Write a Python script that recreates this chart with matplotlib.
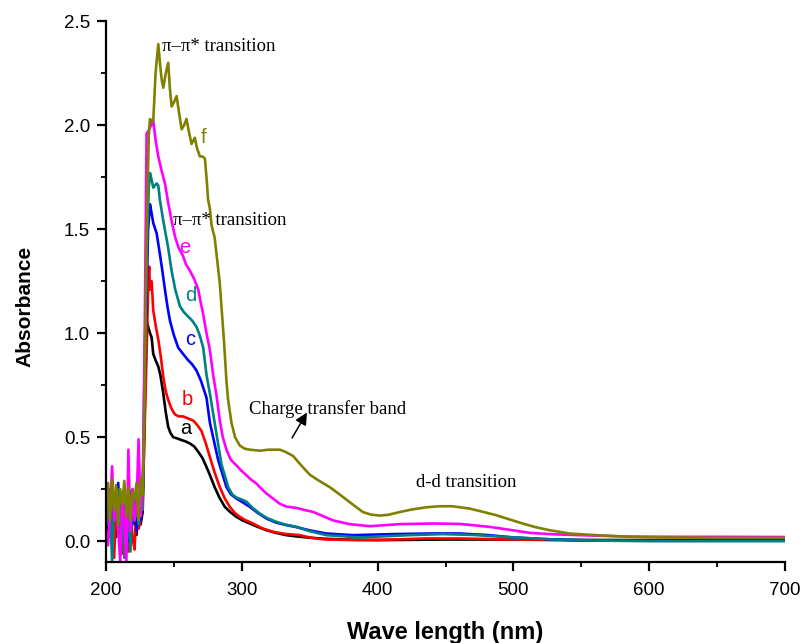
import matplotlib
matplotlib.use("Agg")
import matplotlib.pyplot as plt
from matplotlib.ticker import MultipleLocator, FormatStrFormatter

# noisy start region shared by all spectra
noise_wl = [200, 201.5, 203, 204.5, 206, 207.5, 209, 210.5, 212, 213.5,
            215, 216.5, 218, 219.5, 221, 222.5, 224, 225.5, 227]

# a (black)
a_wl = noise_wl + [229.9, 231.1, 232.4, 233.6, 234.8, 236.5, 238.5, 240, 242.2, 244,
                   245.8, 247.5, 249.5, 252, 255.7, 258.5, 261.8, 265, 267.9, 271,
                   274, 277, 280, 283.5, 287.5, 291.5, 296, 300.5, 305.9, 312,
                   318.1, 325, 332.8, 340, 350, 360, 375, 400, 450, 500,
                   550, 600, 650, 700]
a_abs = [0.15, 0.05, 0.22, 0.08, 0.18, 0.02, 0.20, 0.10, 0.16, 0.04,
         0.21, 0.06, 0.17, 0.09, 0.12, 0.03, 0.19, 0.08, 0.14] + \
        [1.06, 1.03, 1.00, 0.98, 0.90, 0.87, 0.84, 0.80, 0.71, 0.62,
         0.55, 0.52, 0.50, 0.495, 0.486, 0.48, 0.47, 0.455, 0.43, 0.40,
         0.357, 0.31, 0.26, 0.21, 0.165, 0.14, 0.117, 0.10, 0.085, 0.068,
         0.053, 0.04, 0.029, 0.023, 0.017, 0.012, 0.008, 0.005, 0.008, 0.008,
         0.006, 0.005, 0.005, 0.005]

# b (red)
b_wl = noise_wl + [229.5, 231.2, 231.8, 232.4, 233.6, 234.8, 236.5, 238.5, 240.5, 242.2,
                   244, 245.8, 248, 250.7, 253.5, 256.8, 260.5, 264.2, 267, 270.3,
                   273.5, 276.5, 280, 283.8, 287.5, 291.2, 295, 298.5, 303, 308.3,
                   315, 323, 332, 342.6, 352, 362.2, 386.8, 410, 435.8, 460,
                   500, 550, 600, 650, 700]
b_abs = [0.10, 0.20, 0.02, 0.25, -0.08, 0.18, 0.05, 0.22, -0.06, 0.15,
         0.08, -0.05, 0.20, 0.02, -0.04, 0.18, 0.06, 0.10, 0.20] + \
        [0.80, 1.26, 1.32, 1.21, 1.25, 1.11, 1.04, 0.97, 0.88, 0.79,
         0.72, 0.68, 0.64, 0.61, 0.60, 0.60, 0.59, 0.58, 0.56, 0.53,
         0.47, 0.405, 0.33, 0.26, 0.205, 0.165, 0.135, 0.117, 0.10, 0.085,
         0.062, 0.045, 0.035, 0.029, 0.015, 0.008, 0.005, 0.008, 0.013, 0.013,
         0.008, 0.003, 0.005, 0.006, 0.008]

# c (blue)
c_wl = noise_wl + [229, 231, 232.4, 233.5, 234.8, 237.3, 239.7, 241.5, 243.4, 245.2,
                   247.1, 250, 253.2, 256.8, 260.5, 263.5, 266.7, 270, 274, 276.5,
                   282.6, 288.7, 292, 296, 300, 305.9, 312, 318.1, 325, 332.8,
                   340, 350, 362.2, 381.8, 411.3, 440, 460, 480, 500, 530,
                   560, 600, 650, 700]
c_abs = [0.18, 0.10, 0.25, 0.05, 0.20, 0.12, 0.28, 0.02, 0.22, 0.10,
         0.18, 0.00, 0.24, 0.08, 0.20, 0.05, 0.15, 0.10, 0.22] + \
        [0.90, 1.50, 1.62, 1.58, 1.53, 1.48, 1.38, 1.30, 1.21, 1.13,
         1.06, 0.99, 0.93, 0.90, 0.87, 0.85, 0.82, 0.77, 0.69, 0.57,
         0.39, 0.26, 0.225, 0.205, 0.19, 0.165, 0.135, 0.109, 0.09, 0.077,
         0.068, 0.052, 0.037, 0.029, 0.034, 0.037, 0.037, 0.03, 0.018, 0.008,
         0.003, 0.003, 0.004, 0.005]

# d (teal)
d_wl = noise_wl + [228.5, 230.5, 231.5, 232.4, 233.5, 234.8, 236, 237.3, 238.5, 239.7,
                   242.2, 245.8, 248.3, 251, 254.4, 257.5, 260.5, 263.5, 266.7, 269,
                   271.6, 274, 276.5, 280, 285, 290, 293, 296, 300, 303.4,
                   308, 313.2, 319, 325.5, 332, 340.2, 350, 362.2, 386.8, 410,
                   423.5, 448, 470, 500, 530, 560, 600, 650, 700]
d_abs = [0.20, 0.08, 0.15, -0.10, 0.22, 0.10, 0.25, 0.05, 0.18, -0.08,
         0.20, 0.12, -0.05, 0.25, 0.10, 0.20, 0.08, 0.22, 0.15] + \
        [0.90, 1.50, 1.70, 1.77, 1.74, 1.70, 1.71, 1.72, 1.71, 1.64,
         1.54, 1.41, 1.30, 1.21, 1.13, 1.10, 1.08, 1.06, 1.03, 0.99,
         0.93, 0.80, 0.71, 0.57, 0.37, 0.26, 0.225, 0.21, 0.20, 0.19,
         0.16, 0.133, 0.11, 0.093, 0.08, 0.069, 0.048, 0.029, 0.018, 0.025,
         0.029, 0.034, 0.03, 0.018, 0.008, 0.003, 0.0, 0.0, 0.0]

# e (magenta)
e_wl = noise_wl + [228.5, 229.9, 231, 232.5, 234.8, 236.5, 238.5, 241, 243.4, 246,
                   248.3, 251, 253.5, 256.8, 259, 261.8, 265, 267.9, 270, 271.6,
                   274, 276.5, 278.9, 281.4, 283.8, 286, 288.7, 292, 296, 299.5,
                   303.4, 307, 310.8, 313.2, 318, 323, 328, 333, 340.2, 346,
                   352.4, 360, 367.1, 379.4, 394.1, 416.2, 440.7, 460.3, 482.4, 497,
                   511.8, 530, 548.5, 585, 620, 653.7, 700]
e_abs = [0.05, -0.02, 0.15, 0.36, 0.10, 0.22, 0.05, -0.10, 0.20, 0.12,
         -0.10, 0.44, 0.05, 0.25, 0.10, 0.18, 0.49, 0.12, 0.25] + \
        [1.00, 1.96, 1.97, 1.99, 2.02, 1.93, 1.85, 1.78, 1.72, 1.62,
         1.54, 1.46, 1.41, 1.37, 1.33, 1.30, 1.26, 1.21, 1.14, 1.09,
         1.00, 0.92, 0.80, 0.70, 0.58, 0.50, 0.44, 0.39, 0.365, 0.34,
         0.317, 0.295, 0.277, 0.26, 0.23, 0.205, 0.18, 0.166, 0.16, 0.15,
         0.141, 0.12, 0.10, 0.082, 0.072, 0.082, 0.085, 0.083, 0.069, 0.055,
         0.04, 0.033, 0.029, 0.022, 0.021, 0.021, 0.02]

# f (olive)
f_wl = noise_wl + [228.5, 230, 231.5, 232.4, 233.5, 234.8, 236.5, 238.5, 240, 241,
                   242.2, 244, 245.8, 247, 248.3, 250, 252, 254, 255.7, 257.5,
                   259.3, 261, 263, 265.4, 267, 269.1, 271, 272.8, 274, 275.2,
                   276.5, 277.7, 280, 283.8, 287, 288.7, 289.9, 292.4, 295, 298.5,
                   302, 305.9, 313.2, 320, 327.9, 332, 337.7, 343, 350, 357,
                   364.7, 371, 377, 383, 389.2, 395, 401.5, 408, 416.2, 425,
                   435.8, 445.6, 455, 467.6, 477, 487.3, 497, 506.8, 516, 526.5,
                   541.2, 560.8, 585.3, 609.8, 650, 700]
f_abs = [0.12, 0.28, 0.10, 0.30, 0.15, 0.27, 0.08, 0.25, 0.18, 0.29,
         0.12, 0.26, 0.10, 0.24, 0.20, 0.28, 0.10, 0.30, 0.22] + \
        [0.70, 1.50, 1.95, 2.03, 2.02, 2.02, 2.25, 2.39, 2.28, 2.22,
         2.18, 2.25, 2.30, 2.18, 2.09, 2.11, 2.14, 2.05, 1.98, 2.00,
         2.03, 1.97, 1.91, 1.94, 1.89, 1.85, 1.85, 1.84, 1.75, 1.64,
         1.60, 1.52, 1.46, 1.24, 0.95, 0.77, 0.68, 0.57, 0.50, 0.46,
         0.445, 0.44, 0.435, 0.44, 0.44, 0.43, 0.41, 0.37, 0.32, 0.29,
         0.26, 0.23, 0.20, 0.17, 0.14, 0.128, 0.123, 0.127, 0.14, 0.152,
         0.163, 0.168, 0.168, 0.157, 0.142, 0.125, 0.105, 0.085, 0.068, 0.053,
         0.037, 0.029, 0.021, 0.018, 0.016, 0.016]

series = [("a", a_wl, a_abs, "black"),
          ("b", b_wl, b_abs, "#ff0000"),
          ("c", c_wl, c_abs, "#0000ff"),
          ("d", d_wl, d_abs, "#008080"),
          ("e", e_wl, e_abs, "#ff00ff"),
          ("f", f_wl, f_abs, "#808000")]

# where the curve letters sit
letter_pos = {"a": (254.5, 0.54), "b": (255.5, 0.68), "c": (258.3, 0.97),
              "d": (258.3, 1.18), "e": (254, 1.41), "f": (269.5, 1.94)}

sans = "Liberation Sans"
serif = "Liberation Serif"

fig = plt.figure(figsize=(8.03, 6.43), dpi=100)
ax = fig.add_axes([0.132, 0.126, 0.8456, 0.841])

for name, wl, ab, col in series:
    ax.plot(wl, ab, color=col, lw=1.9)
    lx, ly = letter_pos[name]
    ax.text(lx, ly, name, color=col, fontsize=14.5, family=sans,
            ha="left", va="center")

ax.text(241.5, 2.38, "π–π* transition", fontsize=13.5, family=serif,
        ha="left", va="center")
ax.text(249, 1.54, "π–π* transition", fontsize=13.5, family=serif,
        ha="left", va="center")
ax.text(305, 0.635, "Charge transfer band", fontsize=13.5, family=serif,
        ha="left", va="center")
ax.text(428, 0.28, "d-d transition", fontsize=13.5, family=serif,
        ha="left", va="center")
ax.annotate("", xy=(349, 0.63), xytext=(336, 0.485),
            arrowprops=dict(arrowstyle="-|>", color="black", lw=1.1,
                            mutation_scale=18))

ax.set_xlim(200, 700)
ax.set_ylim(-0.1, 2.5)
ax.xaxis.set_major_locator(MultipleLocator(100))
ax.xaxis.set_minor_locator(MultipleLocator(50))
ax.yaxis.set_major_locator(MultipleLocator(0.5))
ax.yaxis.set_minor_locator(MultipleLocator(0.25))
ax.yaxis.set_major_formatter(FormatStrFormatter("%.1f"))

for s in ["top", "right"]:
    ax.spines[s].set_visible(False)
for s in ["left", "bottom"]:
    ax.spines[s].set_linewidth(1.6)

ax.tick_params(which="major", direction="out", length=6.5, width=1.6,
               labelsize=13.5)
ax.tick_params(axis="x", which="major", pad=8)
ax.tick_params(axis="y", which="major", pad=5)
ax.tick_params(which="minor", direction="out", length=3.5, width=1.3)
for lab in ax.get_xticklabels() + ax.get_yticklabels():
    lab.set_family(sans)

ax.set_xlabel("Wave length (nm)", fontsize=17, fontweight="bold",
              family=sans, labelpad=16)
ax.set_ylabel("Absorbance", fontsize=15, fontweight="bold", family=sans)
ax.yaxis.set_label_coords(-0.106, 0.473)

fig.savefig("out.png", dpi=100)
